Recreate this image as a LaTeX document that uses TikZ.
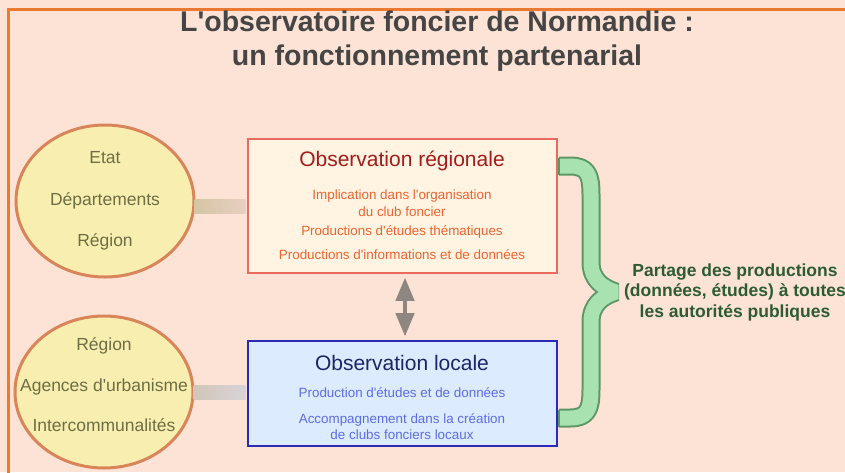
\documentclass[tikz,border=0pt]{standalone}
\usepackage{fontspec}
\setmainfont{Liberation Sans}
\usepackage{tikz}
\usetikzlibrary{arrows}
\usetikzlibrary{shapes.geometric}
\usetikzlibrary{calc}

\definecolor{fond}{HTML}{FCE3D6}
\definecolor{cadre}{HTML}{EB7A30}
\definecolor{ellfill}{HTML}{F8EEB0}
\definecolor{elldraw}{HTML}{D9855A}
\definecolor{elltext}{HTML}{6E6E45}
\definecolor{regfill}{HTML}{FFF3E1}
\definecolor{regdraw}{HTML}{EA6A5E}
\definecolor{regtitle}{HTML}{A31B1B}
\definecolor{regitem}{HTML}{EB6530}
\definecolor{locfill}{HTML}{DCEBFD}
\definecolor{locdraw}{HTML}{2A2AB5}
\definecolor{loctitle}{HTML}{1E2466}
\definecolor{locitem}{HTML}{5C6DE3}
\definecolor{flgray}{HTML}{8E8680}
\definecolor{bracefill}{HTML}{A8E2B1}
\definecolor{bracedraw}{HTML}{5E9766}
\definecolor{partext}{HTML}{2D5C33}
\newcommand{\ap}{\textquotesingle}

\begin{document}
\begin{tikzpicture}[x=1pt,y=-1pt,
		partner/.style={ellipse,draw=elldraw,fill=ellfill,line width=3,inner sep=0,
			minimum width=178,minimum height=152,text=elltext,align=center,
			font=\fontsize{17.5}{41.5}\selectfont},
		obsbox/.style={rectangle,line width=2,inner sep=0},
		obstitle/.style={font=\fontsize{21}{24}\selectfont},
		obsitem/.style={font=\fontsize{13.4}{16.5}\selectfont,align=center}]
			\useasboundingbox (0,0) rectangle (845,472);
			\fill[fond] (0,0) rectangle (845,472);
			\draw[cadre,line width=3] (8,480) -- (8,9) -- (850,9);
			
			% titre
			
			\node[text=black!73,align=center,font=\fontsize{28.5}{34}\selectfont\bfseries] (T) at (437,41) {L\ap observatoire foncier de Normandie :\\un fonctionnement partenarial};
			
			% partenaires
			
			\node[partner] (E1) at (105,201) {Etat\\Départements\\Région};
			\node[partner] (E2) at (104,392) {};
			\node[text=elltext,align=center,font=\fontsize{17.5}{40.5}\selectfont] (E2t) at (104,385) {Région\\Agences d\ap urbanisme\\Intercommunalités};
			
			% observation regionale
			
			\node[obsbox,draw=regdraw,fill=regfill,minimum width=309,minimum height=134] (R) at (402,206) {};
			\node[obstitle,text=regtitle] (R0) at (402,161) {Observation régionale};
			\node[obsitem,text=regitem] (R1) at (402,203) {Implication dans l\ap organisation\\du club foncier};
			\node[obsitem,text=regitem] (R2) at (402,232) {Productions d\ap études thématiques};
			\node[obsitem,text=regitem] (R3) at (402,255) {Productions d\ap informations et de données};
			
			% observation locale
			
			\node[obsbox,draw=locdraw,fill=locfill,minimum width=309,minimum height=105] (L) at (402,393.5) {};
			\node[obstitle,text=loctitle] (L0) at (402,363) {Observation locale};
			\node[obsitem,text=locitem] (L1) at (402,393) {Production d\ap études et de données};
			\node[obsitem,text=locitem] (L2) at (402,426.5) {Accompagnement dans la création\\de clubs fonciers locaux};
			
			\shade[left color={rgb,255:red,213;green,198;blue,162},right color={rgb,255:red,232;green,207;blue,195}] ($(E1.east |- R.west)+(-1,-7)$) rectangle ($(R.west)+(-1,7)$);
			\shade[left color={rgb,255:red,210;green,198;blue,184},right color={rgb,255:red,216;green,211;blue,216}] ($(E2.east)+(-1,-7)$) rectangle ($(L.west |- E2.east)+(-1,7)$);
			
			\draw[<->,>=triangle 45,flgray,line width=4.5,shorten >=4,shorten <=4] (R.south) ++(3,0) -- ($(L.north)+(3,0)$);
			
			% partage
			
			\draw[bracedraw,line width=2,double=bracefill,double distance=15,line join=bevel]
				(559,166) -- (570,166) .. controls (588,166) and (591,175) .. (591,195) -- (591,262)
				.. controls (591,280) and (603,288) .. (616,292)
				.. controls (603,296) and (591,304) .. (591,322) -- (591,389)
				.. controls (591,409) and (588,418) .. (570,418) -- (559,418);
			\draw[bracedraw,line width=2] (559,157.5) -- (559,174.5);
			\draw[bracedraw,line width=2] (559,409.5) -- (559,426.5);
			\node[text=partext,align=center,font=\fontsize{17.5}{20.5}\selectfont\bfseries] (P) at (735,292) {Partage des productions\\(données, études) à toutes\\les autorités publiques};
		\end{tikzpicture}
\end{document}
